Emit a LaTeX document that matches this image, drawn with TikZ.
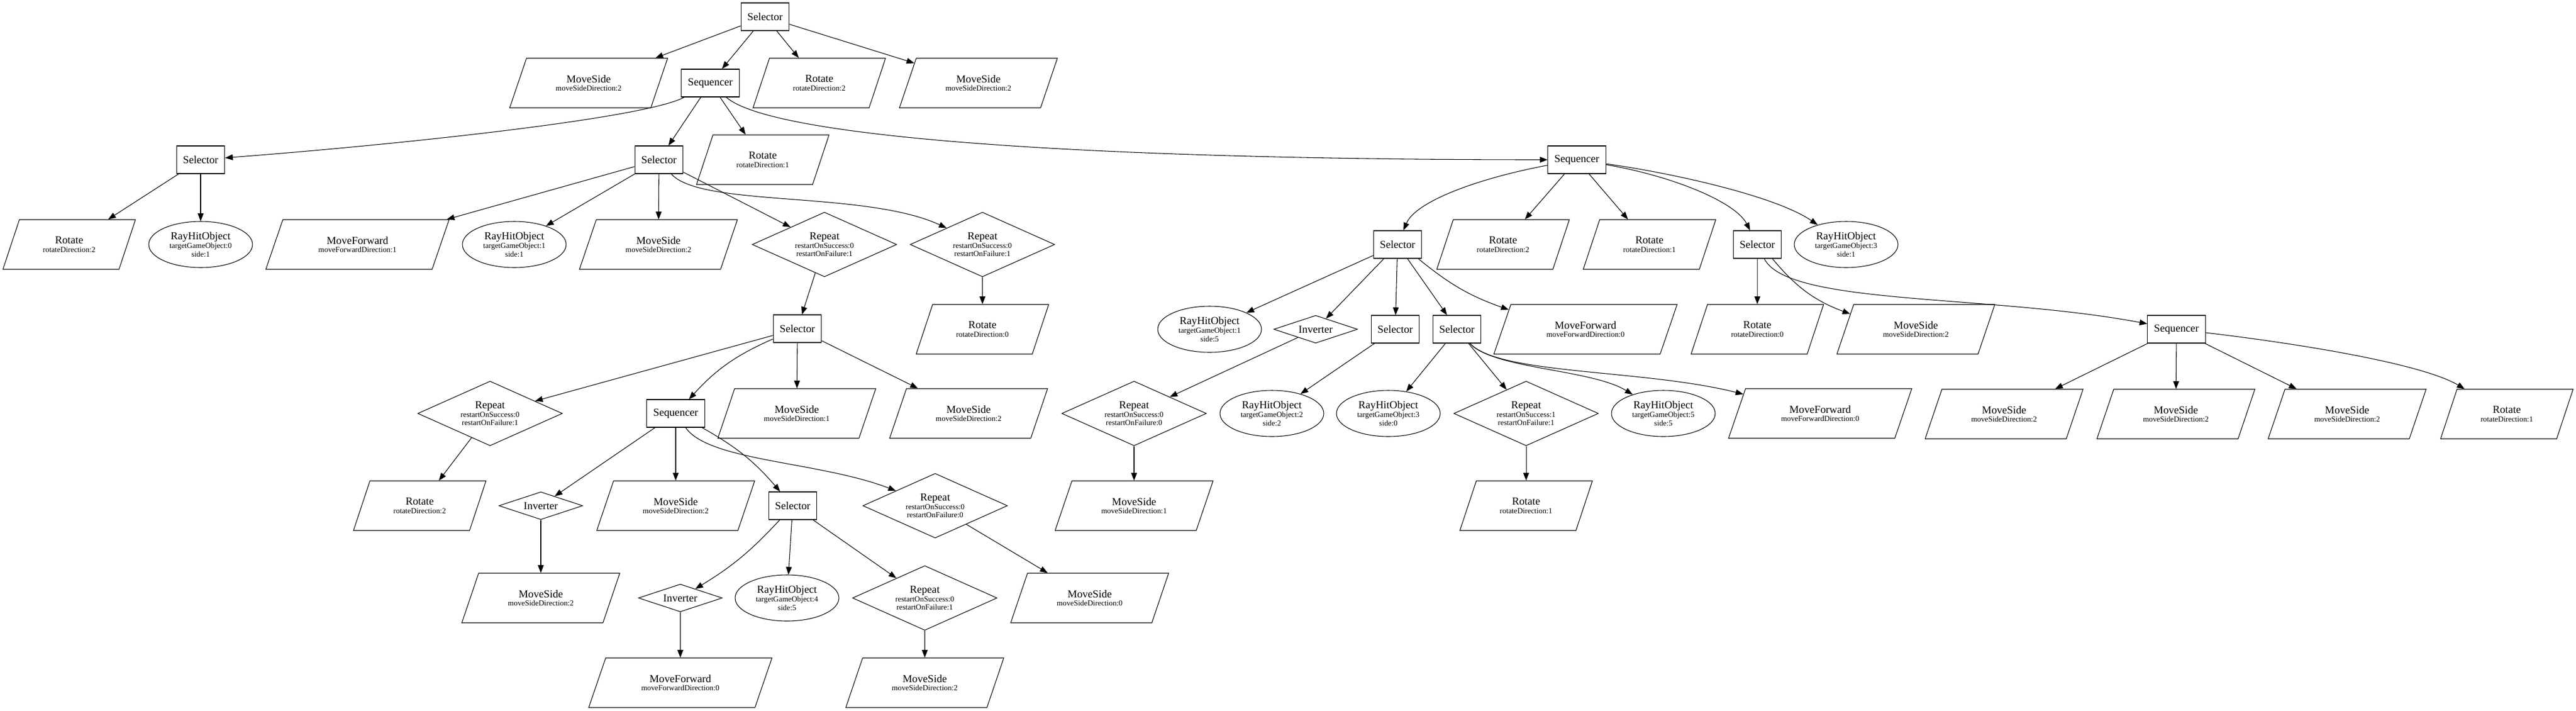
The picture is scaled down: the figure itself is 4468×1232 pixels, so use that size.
\documentclass[tikz,border=0pt]{standalone}
\usepackage{fontspec}
\setmainfont{Liberation Serif}
\usepackage{tikz}
\usetikzlibrary{shapes.geometric,arrows.meta}

\newcommand{\nm}[1]{{\fontsize{14}{14}\selectfont #1}}

\tikzset{
  composite/.style={draw, rectangle, minimum height=36pt, minimum width=54pt, inner xsep=8.5pt, font=\fontsize{14}{16}\selectfont},
  action/.style={draw, trapezium, trapezium left angle=61, trapezium right angle=119, trapezium stretches=true, minimum height=64.5pt, inner sep=0pt, align=center, font=\fontsize{10}{11}\selectfont},
  actrot/.style={action, minimum width=172.5pt},
  actside/.style={action, minimum width=205.5pt},
  actfwd/.style={action, minimum width=238.5pt},
  condition/.style={draw, ellipse, minimum width=135pt, minimum height=60pt, inner sep=0pt, align=center, font=\fontsize{10}{11}\selectfont},
  decorator/.style={draw, diamond, aspect=2.2, minimum width=188pt, minimum height=84pt, inner sep=0pt, align=center, font=\fontsize{10}{11}\selectfont},
  inverter/.style={draw, diamond, aspect=3, minimum width=109pt, minimum height=36pt, inner sep=0pt, font=\fontsize{14}{16}\selectfont},
}

\begin{document}
\begin{tikzpicture}[x=0.75pt, y=0.75pt, line width=0.8pt, >={Triangle[length=10pt,width=7.5pt]}]

\useasboundingbox (0,0) rectangle (4468,-1232);

% racine
\node[composite] (root) at (1327,-29) {Selector};

% niveau 1
\node[actside] (ms1) at (1021,-144) {\nm{MoveSide}\\moveSideDirection:2};
\node[composite] (seq1) at (1232,-144) {Sequencer};
\node[actrot] (rot1) at (1421,-144) {\nm{Rotate}\\rotateDirection:2};
\node[actside] (ms2) at (1697,-144) {\nm{MoveSide}\\moveSideDirection:2};

% niveau 2
\node[composite] (sel2a) at (348,-277) {Selector};
\node[composite] (sel2b) at (1143,-277) {Selector};
\node[actrot] (rot2) at (1323,-277) {\nm{Rotate}\\rotateDirection:1};
\node[composite] (seq2) at (2735,-277) {Sequencer};

% niveau 3
\node[actrot] (rot3) at (120,-424) {\nm{Rotate}\\rotateDirection:2};
\node[condition] (ray0) at (348,-424) {\nm{RayHitObject}\\targetGameObject:0\\side:1};
\node[actfwd] (fwd3) at (620,-424) {\nm{MoveForward}\\moveForwardDirection:1};
\node[condition] (ray1) at (892,-424) {\nm{RayHitObject}\\targetGameObject:1\\side:1};
\node[actside] (ms3) at (1142,-424) {\nm{MoveSide}\\moveSideDirection:2};
\node[decorator] (rep3a) at (1430,-424) {\nm{Repeat}\\restartOnSuccess:0\\restartOnFailure:1};
\node[decorator] (rep3b) at (1704,-424) {\nm{Repeat}\\restartOnSuccess:0\\restartOnFailure:1};
\node[composite] (sel3a) at (2424,-424) {Selector};
\node[actrot] (rot3b) at (2607,-424) {\nm{Rotate}\\rotateDirection:2};
\node[actrot] (rot3c) at (2861,-424) {\nm{Rotate}\\rotateDirection:1};
\node[composite] (sel3b) at (3048,-424) {Selector};
\node[condition] (ray3) at (3202,-424) {\nm{RayHitObject}\\targetGameObject:3\\side:1};

% niveau 4
\node[composite] (sel4) at (1383,-570) {Selector};
\node[actrot] (rot4) at (1704,-571) {\nm{Rotate}\\rotateDirection:0};
\node[condition] (ray4) at (2098,-571) {\nm{RayHitObject}\\targetGameObject:1\\side:5};
\node[inverter] (inv4) at (2282,-571) {Inverter};
\node[composite] (sel4b) at (2420,-571) {Selector};
\node[composite] (sel4c) at (2527,-571) {Selector};
\node[actfwd] (fwd4) at (2750,-571) {\nm{MoveForward}\\moveForwardDirection:0};
\node[actrot] (rot4b) at (3048,-571) {\nm{Rotate}\\rotateDirection:0};
\node[actside] (ms4) at (3323,-571) {\nm{MoveSide}\\moveSideDirection:2};
\node[composite] (seq4) at (3775,-571) {Sequencer};

% niveau 5
\node[decorator] (rep5) at (850,-717) {\nm{Repeat}\\restartOnSuccess:0\\restartOnFailure:1};
\node[composite] (seq5) at (1172,-717) {Sequencer};
\node[actside] (ms5a) at (1382,-717) {\nm{MoveSide}\\moveSideDirection:1};
\node[actside] (ms5b) at (1680,-717) {\nm{MoveSide}\\moveSideDirection:2};
\node[decorator] (rep5b) at (1967,-717) {\nm{Repeat}\\restartOnSuccess:0\\restartOnFailure:0};
\node[condition] (ray5a) at (2206,-717) {\nm{RayHitObject}\\targetGameObject:2\\side:2};
\node[condition] (ray5b) at (2408,-717) {\nm{RayHitObject}\\targetGameObject:3\\side:0};
\node[decorator] (rep5c) at (2647,-717) {\nm{Repeat}\\restartOnSuccess:1\\restartOnFailure:1};
\node[condition] (ray5c) at (2885,-717) {\nm{RayHitObject}\\targetGameObject:5\\side:5};
\node[actfwd] (fwd5) at (3157,-717) {\nm{MoveForward}\\moveForwardDirection:0};
\node[actside] (ms5c) at (3476,-718) {\nm{MoveSide}\\moveSideDirection:2};
\node[actside] (ms5d) at (3774,-718) {\nm{MoveSide}\\moveSideDirection:2};
\node[actside] (ms5e) at (4071,-718) {\nm{MoveSide}\\moveSideDirection:2};
\node[actrot] (rot5) at (4348,-718) {\nm{Rotate}\\rotateDirection:1};

% niveau 6
\node[actrot] (rot6) at (728,-877) {\nm{Rotate}\\rotateDirection:2};
\node[inverter] (inv6) at (938,-877) {Inverter};
\node[actside] (ms6) at (1172,-877) {\nm{MoveSide}\\moveSideDirection:2};
\node[composite] (sel6) at (1375,-877) {Selector};
\node[decorator] (rep6) at (1622,-877) {\nm{Repeat}\\restartOnSuccess:0\\restartOnFailure:0};
\node[actside] (ms6b) at (1967,-877) {\nm{MoveSide}\\moveSideDirection:1};
\node[actrot] (rot6b) at (2647,-877) {\nm{Rotate}\\rotateDirection:1};

% niveau 7
\node[actside] (ms7) at (938,-1037) {\nm{MoveSide}\\moveSideDirection:2};
\node[inverter] (inv7) at (1180,-1037) {Inverter};
\node[condition] (ray7) at (1365,-1037) {\nm{RayHitObject}\\targetGameObject:4\\side:5};
\node[decorator] (rep7) at (1604,-1037) {\nm{Repeat}\\restartOnSuccess:0\\restartOnFailure:1};
\node[actside] (ms7b) at (1890,-1037) {\nm{MoveSide}\\moveSideDirection:0};

% niveau 8
\node[actfwd] (fwd8) at (1180,-1184) {\nm{MoveForward}\\moveForwardDirection:0};
\node[actside] (ms8) at (1604,-1184) {\nm{MoveSide}\\moveSideDirection:2};

% aretes
\draw[->] (root) -- (ms1);
\draw[->] (root) -- (seq1);
\draw[->] (root) -- (rot1);
\draw[->] (root) -- (ms2);

\draw[->] (seq1) .. controls (1120,-205) and (700,-250) .. (sel2a);
\draw[->] (seq1) -- (sel2b);
\draw[->] (seq1) -- (rot2);
\draw[->] (seq1) .. controls (1340,-240) and (1900,-277) .. (seq2);

\draw[->] (sel2a) -- (rot3);
\draw[->] (sel2a) -- (ray0);

\draw[->] (sel2b) -- (fwd3);
\draw[->] (sel2b) -- (ray1);
\draw[->] (sel2b) -- (ms3);
\draw[->] (sel2b) -- (rep3a);
\draw[->] (sel2b) .. controls (1215,-360) and (1500,-330) .. (rep3b);

\draw[->] (rep3a) -- (sel4);
\draw[->] (rep3b) -- (rot4);

\draw[->] (sel4) -- (rep5);
\draw[->] (sel4) to[bend right=12] (seq5);
\draw[->] (sel4) -- (ms5a);
\draw[->] (sel4) -- (ms5b);
\draw[->] (rep5) -- (rot6);

\draw[->] (seq5) -- (inv6);
\draw[->] (seq5) -- (ms6);
\draw[->] (seq5) to[bend left=10] (sel6);
\draw[->] (seq5) .. controls (1230,-800) and (1420,-800) .. (rep6);
\draw[->] (inv6) -- (ms7);

\draw[->] (sel6) to[bend left=8] (inv7);
\draw[->] (sel6) -- (ray7);
\draw[->] (sel6) -- (rep7);
\draw[->] (rep6) -- (ms7b);
\draw[->] (inv7) -- (fwd8);
\draw[->] (rep7) -- (ms8);

\draw[->] (seq2) .. controls (2560,-310) and (2455,-350) .. (sel3a);
\draw[->] (seq2) -- (rot3b);
\draw[->] (seq2) -- (rot3c);
\draw[->] (seq2) .. controls (2900,-305) and (3010,-350) .. (sel3b);
\draw[->] (seq2) .. controls (2900,-300) and (3080,-340) .. (ray3);

\draw[->] (sel3a) -- (ray4);
\draw[->] (sel3a) -- (inv4);
\draw[->] (sel3a) -- (sel4b);
\draw[->] (sel3a) -- (sel4c);
\draw[->] (sel3a) to[bend right=10] (fwd4);

\draw[->] (inv4) -- (rep5b);
\draw[->] (rep5b) -- (ms6b);
\draw[->] (sel4b) -- (ray5a);
\draw[->] (sel4c) -- (ray5b);
\draw[->] (sel4c) -- (rep5c);
\draw[->] (sel4c) .. controls (2590,-640) and (2760,-640) .. (ray5c);
\draw[->] (sel4c) .. controls (2600,-650) and (2850,-640) .. (fwd5);
\draw[->] (rep5c) -- (rot6b);

\draw[->] (sel3b) -- (rot4b);
\draw[->] (sel3b) to[bend right=15] (ms4);
\draw[->] (sel3b) .. controls (3100,-530) and (3450,-510) .. (seq4);

\draw[->] (seq4) -- (ms5c);
\draw[->] (seq4) -- (ms5d);
\draw[->] (seq4) -- (ms5e);
\draw[->] (seq4) .. controls (3980,-595) and (4200,-630) .. (rot5);

\end{tikzpicture}
\end{document}
